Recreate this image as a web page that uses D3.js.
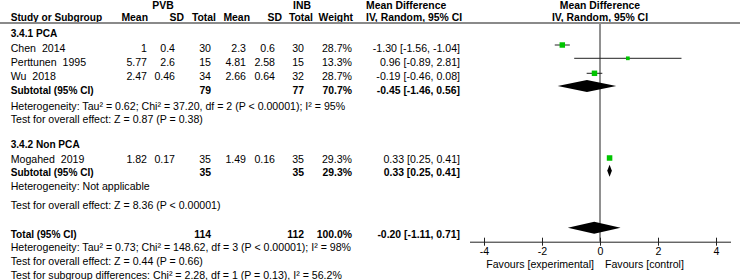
<!DOCTYPE html>
<html>
<head>
<meta charset="utf-8">
<script src="https://cdn.jsdelivr.net/npm/d3@7"></script>
<style>
  html, body { margin: 0; padding: 0; background: #fff; }
  svg text { font-family: "Liberation Sans", Arial, sans-serif; font-size: 10.6px; fill: #000; white-space: pre; }
  .b { font-weight: bold; font-size: 10.4px; }
  .bl { font-weight: bold; font-size: 10.1px; }
</style>
</head>
<body>
<div id="chart"></div>
<script>
// ---- data ----
const studies = ["Chen  2014", "Perttunen  1995", "Wu  2018", "Mogahed  2019"];
const studyGroup = [0, 0, 0, 1];
const pvbMean = [1, 5.77, 2.47, 1.82];
const pvbSd = [0.4, 2.6, 0.46, 0.17];
const pvbN = [30, 15, 34, 35];
const inbMean = [2.3, 4.81, 2.66, 1.49];
const inbSd = [0.6, 2.58, 0.64, 0.16];
const inbN = [30, 15, 32, 35];
const weights = [28.7, 13.3, 28.7, 29.3];
const md = [-1.30, 0.96, -0.19, 0.33];
const mdLo = [-1.56, -0.89, -0.46, 0.25];
const mdHi = [-1.04, 2.81, 0.08, 0.41];

const groups = ["3.4.1 PCA", "3.4.2 Non PCA"];
const groupPvbN = [79, 35];
const groupInbN = [77, 35];
const groupWeight = [70.7, 29.3];
const groupMd = [-0.45, 0.33];
const groupLo = [-1.46, 0.25];
const groupHi = [0.56, 0.41];
const groupHet = [
  "Heterogeneity: Tau² = 0.62; Chi² = 37.20, df = 2 (P < 0.00001); I² = 95%",
  "Heterogeneity: Not applicable"
];
const groupTest = [
  "Test for overall effect: Z = 0.87 (P = 0.38)",
  "Test for overall effect: Z = 8.36 (P < 0.00001)"
];

const totalPvbN = 114, totalInbN = 112, totalWeight = 100.0;
const totalMd = -0.20, totalLo = -1.11, totalHi = 0.71;
const totalNotes = [
  "Heterogeneity: Tau² = 0.73; Chi² = 148.62, df = 3 (P < 0.00001); I² = 98%",
  "Test for overall effect: Z = 0.44 (P = 0.66)",
  "Test for subgroup differences: Chi² = 2.28, df = 1 (P = 0.13), I² = 56.2%"
];
const xTicks = [-4, -2, 0, 2, 4];
const favours = ["Favours [experimental]", "Favours [control]"];

// ---- layout ----
const W = 740, H = 280;
const rowBase = [36.5, 52.3, 66, 80, 93.5, 109.5, 123.3, 148, 162.7, 176, 189.5, 209.3, 237.7, 250.7, 265, 279];
const markY = { 1: 45, 2: 58.3, 3: 73.3, 4: 86, 8: 158, 9: 170.8, 12: 227.8 };
const axisY = 241.7;
const green = "#00c400";

const svg = d3.select("#chart").append("svg")
  .attr("width", W).attr("height", H);

const x = d3.scaleLinear().domain([-4.5, 4.5]).range([469.5, 730.5]);
const boxSize = d3.scaleSqrt().domain([0, 100]).range([0, 10.2]);

// plain hyphen for negatives, like the source
const loc = d3.formatLocale({ decimal: ".", thousands: ",", grouping: [3], currency: ["", ""], minus: "-" });
const fmt2 = loc.format(".2f");
const fmtCI = (m, l, h) => `${fmt2(m)} [${fmt2(l)}, ${fmt2(h)}]`;
const fmtW = loc.format(".1f");

// build the list of table rows
const rows = [];
groups.forEach((g, gi) => {
  rows.push({ type: "group", label: g });
  studies.forEach((s, i) => {
    if (studyGroup[i] !== gi) return;
    rows.push({ type: "study", i });
  });
  rows.push({ type: "sub", gi });
  rows.push({ type: "note", label: groupHet[gi] });
  rows.push({ type: "note", label: groupTest[gi] });
});
rows.push({ type: "total" });
totalNotes.forEach(t => rows.push({ type: "note", label: t }));

// column right edges (data)
const col = { m1: 147, s1: 175, n1: 211, m2: 246, s2: 275, n2: 304, w: 352, ci: 460 };
const left = 10.7;

function txt(xp, yp, s, anchor, cls) {
  svg.append("text").attr("x", xp).attr("y", yp)
    .attr("text-anchor", anchor || "start")
    .attr("class", cls || null)
    .text(s);
}

// header
const h1 = 8.6, h2 = 20.5;
txt(163, h1, "PVB", "middle", "b");
txt(302, h1, "INB", "middle", "b");
txt(366, h1, "Mean Difference", "start", "b");
txt(600, h1, "Mean Difference", "middle", "b");
txt(left, h2, "Study or Subgroup", "start", "bl");
txt(148, h2, "Mean", "end", "b");
txt(184, h2, "SD", "end", "b");
txt(216, h2, "Total", "end", "b");
txt(250, h2, "Mean", "end", "b");
txt(282, h2, "SD", "end", "b");
txt(313, h2, "Total", "end", "b");
txt(353, h2, "Weight", "end", "b");
txt(366, h2, "IV, Random, 95% CI", "start", "b");
txt(600, h2, "IV, Random, 95% CI", "middle", "b");

svg.append("line").attr("x1", 0).attr("x2", W).attr("y1", 23).attr("y2", 23)
  .attr("stroke", "#8a8a8a").attr("stroke-width", 2);

// zero line
svg.append("line").attr("x1", x(0)).attr("x2", x(0)).attr("y1", 24).attr("y2", axisY)
  .attr("stroke", "#222").attr("stroke-width", 1);

function diamond(yc, lo, mid, hi, hh) {
  svg.append("path")
    .attr("d", `M${x(lo)},${yc} L${x(mid)},${yc - hh} L${x(hi)},${yc} L${x(mid)},${yc + hh} Z`)
    .attr("fill", "#000");
}

rows.forEach((r, k) => {
  const y = rowBase[k];
  if (r.type === "group") {
    txt(left, y, r.label, "start", "bl");
  } else if (r.type === "study") {
    const i = r.i;
    txt(left, y, studies[i]);
    txt(col.m1, y, String(pvbMean[i]), "end");
    txt(col.s1, y, String(pvbSd[i]), "end");
    txt(col.n1, y, String(pvbN[i]), "end");
    txt(col.m2, y, String(inbMean[i]), "end");
    txt(col.s2, y, String(inbSd[i]), "end");
    txt(col.n2, y, String(inbN[i]), "end");
    txt(col.w, y, fmtW(weights[i]) + "%", "end");
    txt(col.ci, y, fmtCI(md[i], mdLo[i], mdHi[i]), "end");
    const my = markY[k];
    svg.append("line").attr("x1", x(mdLo[i])).attr("x2", x(mdHi[i]))
      .attr("y1", my).attr("y2", my).attr("stroke", "#222").attr("stroke-width", 1);
    const s = boxSize(weights[i]);
    svg.append("rect").attr("x", x(md[i]) - s / 2).attr("y", my - s / 2)
      .attr("width", s).attr("height", s).attr("fill", green);
  } else if (r.type === "sub") {
    const gi = r.gi;
    txt(left, y, "Subtotal (95% CI)", "start", "bl");
    txt(col.n1, y, String(groupPvbN[gi]), "end", "b");
    txt(col.n2, y, String(groupInbN[gi]), "end", "b");
    txt(col.w, y, fmtW(groupWeight[gi]) + "%", "end", "b");
    txt(col.ci, y, fmtCI(groupMd[gi], groupLo[gi], groupHi[gi]), "end", "b");
    diamond(markY[k], groupLo[gi], groupMd[gi], groupHi[gi], 6);
  } else if (r.type === "total") {
    txt(left, y, "Total (95% CI)", "start", "bl");
    txt(col.n1, y, String(totalPvbN), "end", "b");
    txt(col.n2, y, String(totalInbN), "end", "b");
    txt(col.w, y, fmtW(totalWeight) + "%", "end", "b");
    txt(col.ci, y, fmtCI(totalMd, totalLo, totalHi), "end", "b");
    diamond(markY[k], totalLo, totalMd, totalHi, 6);
  } else {
    txt(left, y, r.label);
  }
});

// axis
const axis = svg.append("g")
  .attr("transform", `translate(0,${axisY})`)
  .call(d3.axisBottom(x).tickValues(xTicks).tickSize(4).tickSizeOuter(0).tickPadding(2)
    .tickFormat(d => String(d)));
axis.select(".domain").attr("stroke", "#222");
axis.selectAll(".tick line").attr("y1", -4).attr("stroke", "#222");
axis.selectAll(".tick text").attr("font-size", null).attr("font-family", null);

txt(x(0) - 6, 267.5, favours[0], "end");
txt(x(0) + 5, 267.5, favours[1], "start");
</script>
</body>
</html>
